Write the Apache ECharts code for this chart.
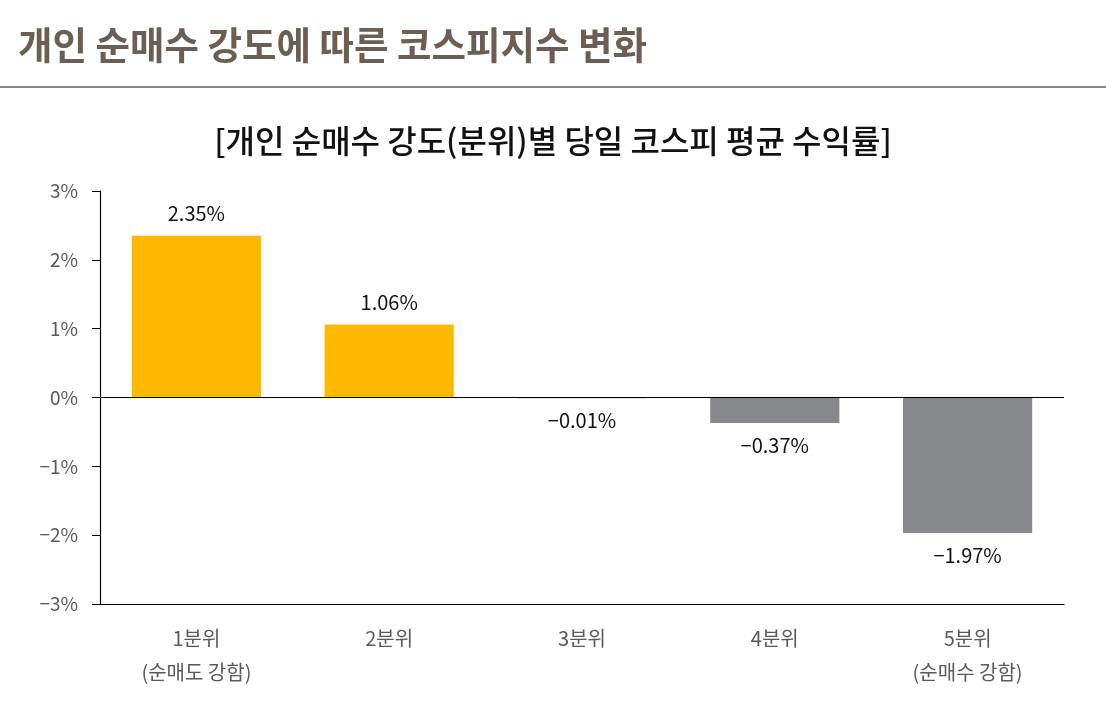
<!DOCTYPE html>
<html>
<head>
<meta charset="utf-8">
<script src="https://cdn.jsdelivr.net/npm/echarts@6/dist/echarts.min.js"></script>
<style>
  html, body { margin: 0; padding: 0; background: #fff; }
  #main { width: 1106px; height: 720px; }
</style>
</head>
<body>
<div id="main"></div>
<script>
// 분위별 평균 수익률 (%)
var categories = ['1분위\n(순매도 강함)', '2분위', '3분위', '4분위', '5분위\n(순매수 강함)'];
var values = [2.35, 1.06, -0.01, -0.37, -1.97];
var yTicks = [-3, -2, -1, 0, 1, 2, 3];

var FONT = '"Noto Sans CJK KR", "Noto Sans", sans-serif';
var GOLD = '#fdb900';
var GRAY = '#86888b';

function pct(v) {
    return (v < 0 ? '\u2212' : '') + Math.abs(v) + '%';
}

var chart = echarts.init(document.getElementById('main'));

var option = {
    backgroundColor: '#fff',
    textStyle: { fontFamily: FONT },
    title: [
        {
            text: '개인 순매수 강도에 따른 코스피지수 변화',
            left: 13,
            top: 21,
            textStyle: { fontFamily: FONT, fontSize: 37.5, fontWeight: 'bold', color: '#6b5e54' }
        },
        {
            text: '[개인 순매수 강도(분위)별 당일 코스피 평균 수익률]',
            left: 'center',
            top: 120,
            textStyle: { fontFamily: FONT, fontSize: 32, fontWeight: 500, color: '#111' }
        }
    ],
    graphic: [
        {
            type: 'line',
            shape: { x1: 0, y1: 87, x2: 1106, y2: 87 },
            style: { stroke: '#665c53', lineWidth: 1.5 }
        }
    ],
    grid: { left: 100, right: 42, top: 191, bottom: 116 },
    xAxis: {
        type: 'category',
        data: categories,
        axisLine: { onZero: false, lineStyle: { color: '#000', width: 1.2 } },
        axisTick: { alignWithLabel: true, length: 8, lineStyle: { color: '#000' } },
        axisLabel: {
            margin: 17,
            fontSize: 20,
            lineHeight: 34,
            color: '#595959',
            fontFamily: FONT
        }
    },
    yAxis: {
        type: 'value',
        min: yTicks[0],
        max: yTicks[yTicks.length - 1],
        interval: 1,
        splitLine: { show: false },
        axisLine: { show: true, lineStyle: { color: '#000', width: 1.2 } },
        axisTick: { show: true, length: 8, lineStyle: { color: '#000' } },
        axisLabel: {
            margin: 22,
            fontSize: 19,
            color: '#595959',
            fontFamily: FONT,
            formatter: function (v) { return pct(v); }
        }
    },
    series: [
        {
            type: 'bar',
            barWidth: '67%',
            data: values.map(function (v) {
                return {
                    value: v,
                    itemStyle: { color: v >= 0 ? GOLD : GRAY },
                    label: { position: v >= 0 ? 'top' : 'bottom' }
                };
            }),
            label: {
                show: true,
                distance: 12,
                fontSize: 20,
                color: '#111',
                fontFamily: FONT,
                formatter: function (p) { return pct(p.value); }
            },
            markLine: {
                silent: true,
                symbol: 'none',
                label: { show: false },
                lineStyle: { color: '#000', width: 1.2, type: 'solid' },
                data: [{ yAxis: 0 }]
            }
        }
    ]
};

chart.setOption(option);
</script>
</body>
</html>
